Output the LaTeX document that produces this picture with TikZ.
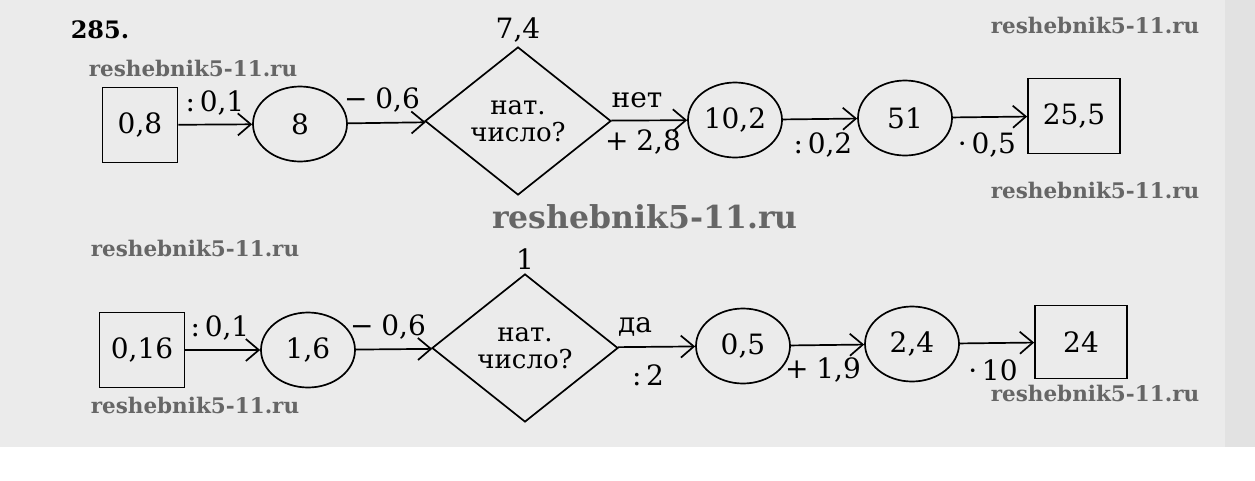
\documentclass[tikz,border=0pt]{standalone}
\usepackage{fontspec}
\setmainfont{DejaVu Serif}
\usetikzlibrary{shapes.geometric,arrows.meta,positioning}
\definecolor{paper}{HTML}{EBEBEB}
\definecolor{paperedge}{HTML}{E2E2E2}
\definecolor{wmgray}{HTML}{666666}
\tikzstyle{numbox} = [rectangle, minimum width=75pt, minimum height=75pt, text centered, draw=black, line width=1.7pt]
\tikzstyle{oval} = [ellipse, minimum width=94pt, minimum height=75pt, inner sep=0pt, text centered, draw=black, line width=1.7pt]
\tikzstyle{check} = [diamond, minimum width=186pt, minimum height=148pt, inner sep=0pt, align=center, draw=black, line width=1.7pt, font=\fontsize{26}{27}\selectfont]
\tikzstyle{arrow} = [-{Straight Barb[length=13pt,width=22pt]}, line width=1.7pt]
\tikzstyle{wmark} = [text=wmgray, font=\fontsize{21.5}{21.5}\selectfont\bfseries]

\begin{document}
\begin{tikzpicture}[x=1pt, y=-1pt, font=\fontsize{28}{28}\selectfont]
  \fill[paper] (0,0) rectangle (1225,447);
  \fill[paperedge] (1225,0) rectangle (1255,447);
  \useasboundingbox (0,0) rectangle (1255,480);
  \node[font=\fontsize{24}{24}\selectfont\bfseries] (num) at (100,30) {285.};
  % first chain
  \node[numbox] (a1) at (140,125) {0,8};
  \node[oval] (a2) at (300,124) {8};
  \node[check] (a3) at (518,121) {нат.\\число?};
  \node[above=0pt of a3.north] (a3v) {7,4};
  \node[oval] (a4) at (735,120) {10,2};
  \node[oval] (a5) at (905,118) {51};
  \node[numbox, minimum width=92pt] (a6) at (1074,116) {25,5};
  \draw[arrow] (a1) -- (a2);
  \draw[arrow] (a2) -- (a3);
  \draw[arrow] (a3) -- (a4);
  \draw[arrow] (a4) -- (a5);
  \draw[arrow] (a5) -- (a6);
  \node (la1) at (215,103) {:\,0,1};
  \node (la2) at (382,100) {−\;0,6};
  \node (la3) at (637,100) {нет};
  \node (la4) at (643,142) {+\;2,8};
  \node (la5) at (823,145) {:\,0,2};
  \node (la6) at (987,145) {·\,0,5};
  % second chain
  \node[numbox, minimum width=85pt] (b1) at (142,350) {0,16};
  \node[oval] (b2) at (308,350) {1,6};
  \node[check] (b3) at (525,348) {нат.\\число?};
  \node[above=0pt of b3.north] (b3v) {1};
  \node[oval] (b4) at (743,346) {0,5};
  \node[oval] (b5) at (912,344) {2,4};
  \node[numbox, minimum width=92pt, minimum height=73pt] (b6) at (1081,342) {24};
  \draw[arrow] (b1) -- (b2);
  \draw[arrow] (b2) -- (b3);
  \draw[arrow] (b3) -- (b4);
  \draw[arrow] (b4) -- (b5);
  \draw[arrow] (b5) -- (b6);
  \node (lb1) at (220,328) {:\,0,1};
  \node (lb2) at (388,327) {−\;0,6};
  \node (lb3) at (635,327) {да};
  \node (lb4) at (648,375) {:\,2};
  \node (lb5) at (823,370) {+\;1,9};
  \node (lb6) at (993,370) {·\,10};
  % watermarks
  \foreach \p [count=\i] in {(193,68),(1095,25),(1095,190),(195,248),(195,405),(1095,393)}
    \node[wmark] (w\i) at \p {reshebnik5-11.ru};
  \node[wmark, font=\fontsize{31.5}{31.5}\selectfont\bfseries] (wbig) at (645,217) {reshebnik5-11.ru};
\end{tikzpicture}
\end{document}
